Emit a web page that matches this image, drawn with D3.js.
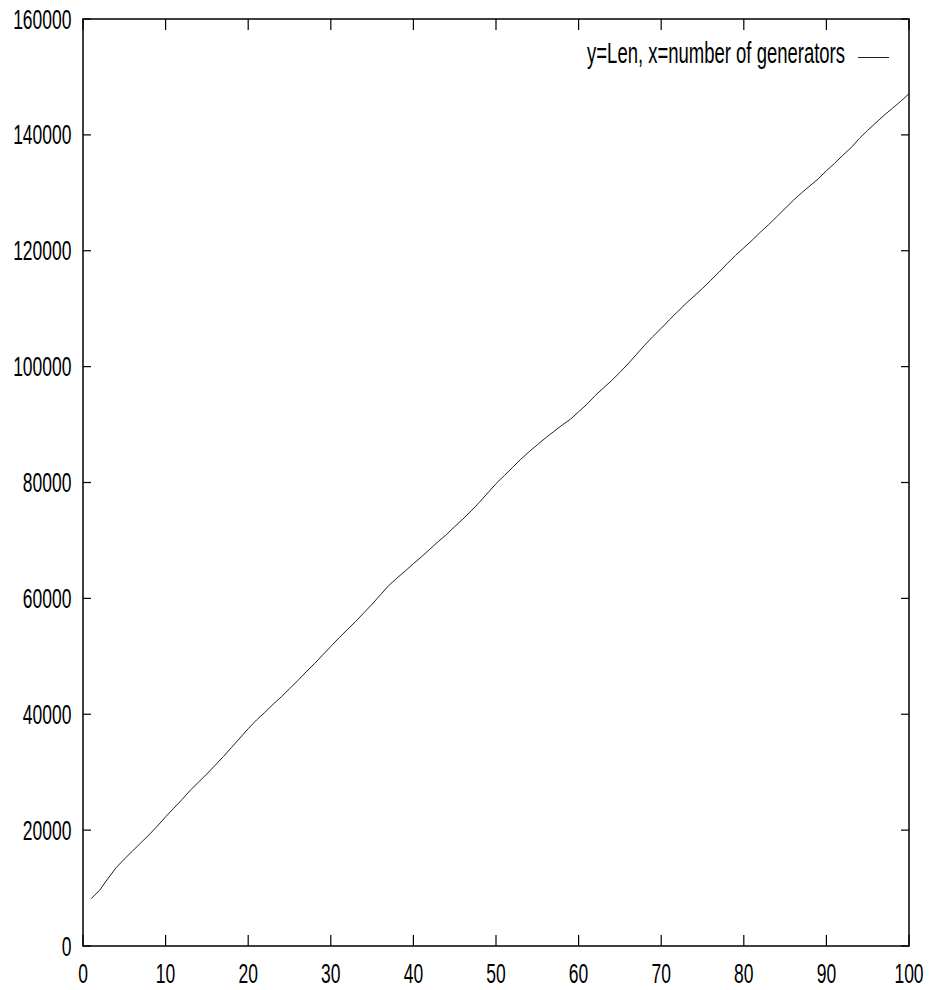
<!DOCTYPE html>
<html>
<head>
<meta charset="utf-8">
<script src="https://cdn.jsdelivr.net/npm/d3@7"></script>
<style>
  html, body { margin: 0; padding: 0; background: #fff; }
  svg text { font-family: "Liberation Sans", Arial, Helvetica, sans-serif; fill: #000; }
</style>
</head>
<body>
<svg id="chart" width="930" height="990"></svg>
<script>
// Number of generators (x) and resulting length (y)
const generators = d3.range(1, 101);
const lengths = [
  8200, 9600, 11600, 13500, 15000, 16400, 17800, 19200, 20700, 22300,
  23800, 25300, 26900, 28300, 29700, 31200, 32700, 34300, 35900, 37500,
  39000, 40300, 41700, 43000, 44400, 45800, 47300, 48700, 50200, 51700,
  53200, 54600, 56000, 57500, 59000, 60600, 62200, 63500, 64700, 66000,
  67200, 68500, 69800, 71000, 72400, 73700, 75100, 76600, 78200, 79800,
  81200, 82600, 84000, 85300, 86500, 87700, 88800, 89900, 90900, 92200,
  93500, 95000, 96300, 97600, 99000, 100500, 102100, 103700, 105200, 106600,
  108100, 109500, 110900, 112200, 113500, 114900, 116300, 117800, 119200, 120500,
  121800, 123200, 124500, 125900, 127300, 128700, 130000, 131200, 132400, 133800,
  135100, 136500, 137800, 139400, 140800, 142100, 143400, 144600, 145800, 147100
];
const xTicks = [0, 10, 20, 30, 40, 50, 60, 70, 80, 90, 100];
const yTicks = [0, 20000, 40000, 60000, 80000, 100000, 120000, 140000, 160000];
const legendLabel = "y=Len, x=number of generators";

const svg = d3.select("#chart");
const plot = { left: 83, right: 909, top: 19, bottom: 946 };
const stretch = 1.55; // tall, narrow lettering

const x = d3.scaleLinear().domain([0, 100]).range([plot.left, plot.right]);
const y = d3.scaleLinear().domain([0, 160000]).range([plot.bottom, plot.top]);

// Tick marks on all four sides (mirrored ticks)
const tickG = svg.append("g").attr("stroke", "#000").attr("stroke-width", 1.2);
xTicks.forEach(t => {
  tickG.append("line").attr("x1", x(t)).attr("x2", x(t)).attr("y1", plot.bottom).attr("y2", plot.bottom - 11);
  tickG.append("line").attr("x1", x(t)).attr("x2", x(t)).attr("y1", plot.top).attr("y2", plot.top + 11);
});
yTicks.forEach(t => {
  tickG.append("line").attr("x1", plot.left).attr("x2", plot.left + 8).attr("y1", y(t)).attr("y2", y(t));
  tickG.append("line").attr("x1", plot.right).attr("x2", plot.right - 8).attr("y1", y(t)).attr("y2", y(t));
});

// Tick labels
function label(txt, px, py, anchor, size) {
  svg.append("text")
    .attr("transform", `translate(${px},${py}) scale(1,${stretch})`)
    .attr("text-anchor", anchor)
    .attr("dominant-baseline", "central")
    .attr("font-size", size)
    .text(txt);
}
xTicks.forEach(t => label(String(t), x(t), 973, "middle", 17.5));
yTicks.forEach(t => label(String(t), 71.5, y(t), "end", 17.5));

// Data line
const line = d3.line()
  .x((d, i) => x(generators[i]))
  .y(d => y(d));
svg.append("path")
  .datum(lengths)
  .attr("fill", "none")
  .attr("stroke", "#222")
  .attr("stroke-width", 1)
  .attr("d", line);

// Frame
svg.append("rect")
  .attr("x", plot.left).attr("y", plot.top)
  .attr("width", plot.right - plot.left).attr("height", plot.bottom - plot.top)
  .attr("fill", "none").attr("stroke", "#000").attr("stroke-width", 1.5);

// Legend
label(legendLabel, 845, 53, "end", 18.5);
svg.append("line")
  .attr("x1", 858).attr("x2", 889).attr("y1", 57.5).attr("y2", 57.5)
  .attr("stroke", "#222").attr("stroke-width", 1);
</script>
</body>
</html>
